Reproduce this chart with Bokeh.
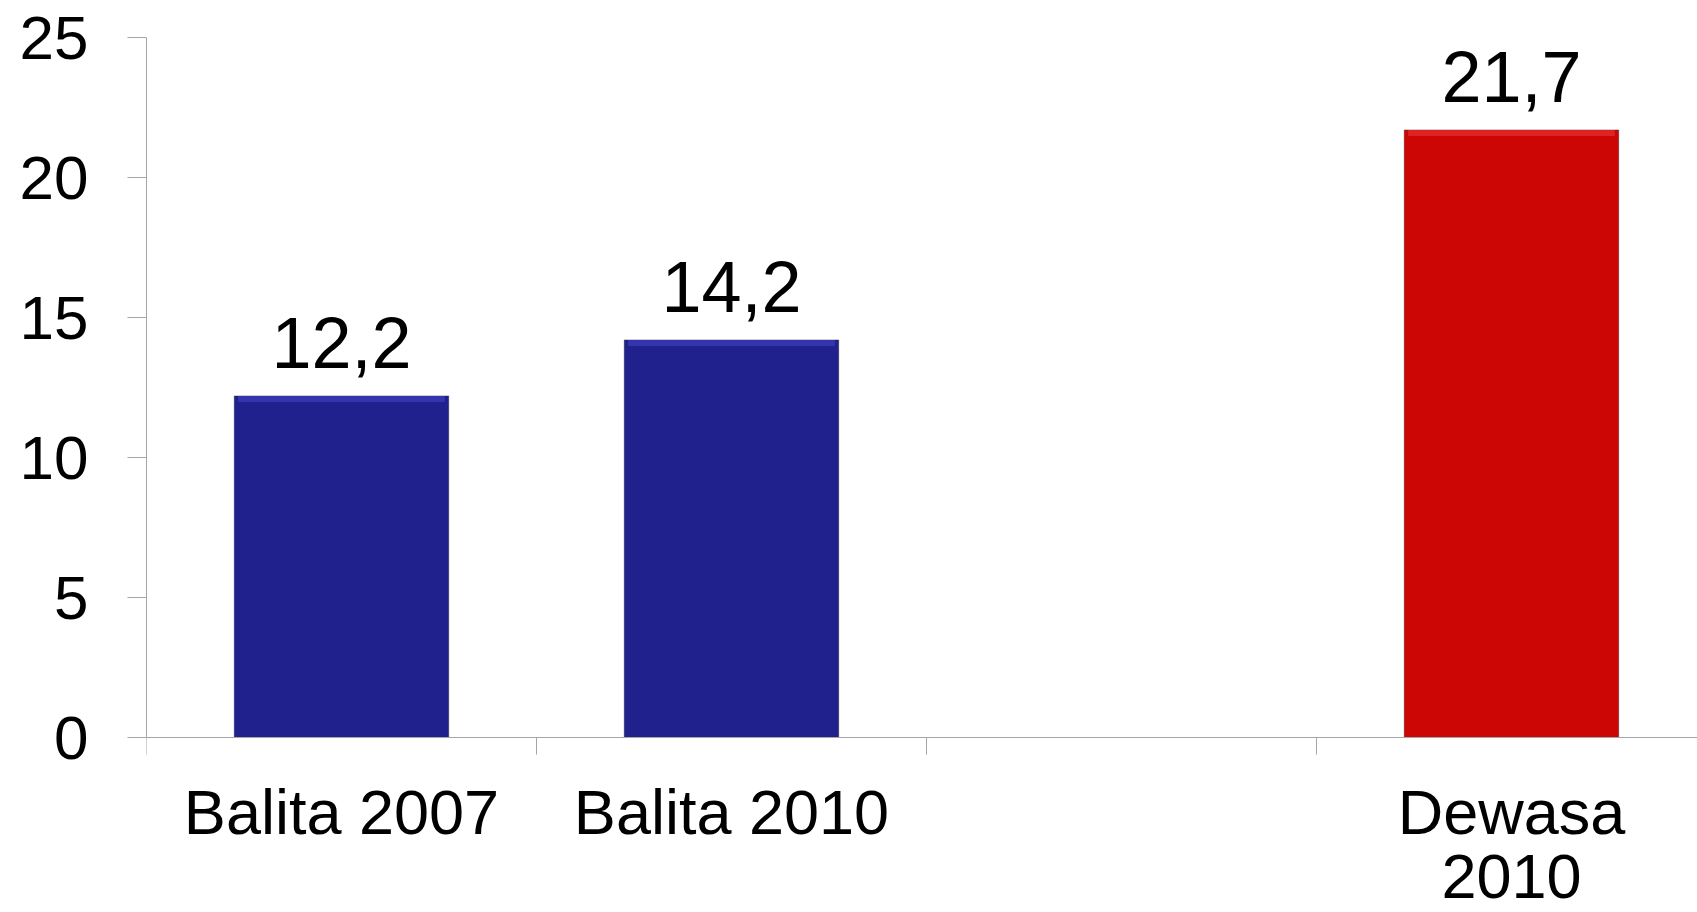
import math
from bokeh.plotting import figure
from bokeh.models import Range1d, FixedTicker, ColumnDataSource
from bokeh.core.properties import value
from bokeh.embed import file_html
from bokeh.resources import INLINE

# ---- data ----
categories = ["Balita 2007", "Balita 2010", "", "Dewasa\n2010"]
values = [12.2, 14.2, float("nan"), 21.7]
y_ticks = [0, 5, 10, 15, 20, 25]

# ---- style ----
BLUE = "#21218E"
RED = "#CC0505"
BLUE_HI = "#3A3AB6"
RED_HI = "#E42A2A"
bar_colors = [BLUE, BLUE, BLUE, RED]
hi_colors = [BLUE_HI, BLUE_HI, BLUE_HI, RED_HI]
BEVEL = 0.22          # depth of the top highlight, in value units
FONT = "Liberation Sans"
GREY = "#A6A6A6"

xs = [i + 0.5 for i in range(len(categories))]
labels = ["" if math.isnan(v) else f"{v:.1f}".replace(".", ",") for v in values]

src = ColumnDataSource(dict(x=xs, top=values, hi_bottom=[v - BEVEL for v in values],
                            color=bar_colors, hi=hi_colors, lab=labels))

# frame runs to the bottom of the canvas; the x axis is pinned at y = 0
p = figure(width=1697, height=912, output_backend="svg", toolbar_location=None,
           x_range=Range1d(0, 3.977), y_range=Range1d(-6.25, 25),
           min_border_left=146, min_border_right=0, min_border_top=37, min_border_bottom=0)
p.outline_line_color = None
p.background_fill_color = "white"
p.border_fill_color = "white"
p.xgrid.grid_line_color = None
p.ygrid.grid_line_color = None

p.vbar(x="x", top="top", bottom=0, width=0.55, fill_color="color", line_color="#1a1a1a",
       line_alpha=0.35, source=src)
p.vbar(x="x", top="top", bottom="hi_bottom", width=0.53, fill_color="hi", line_color=None,
       fill_alpha=0.8, source=src)

p.text(x="x", y="top", text="lab", source=src, text_align="center", text_baseline="alphabetic",
       y_offset=-53, text_font=value(FONT), text_font_size="72px", text_color="black")

# y axis
ya = p.yaxis[0]
ya.ticker = FixedTicker(ticks=y_ticks)
ya.bounds = (0, 25)
ya.axis_line_color = GREY
ya.major_tick_line_color = GREY
ya.major_tick_out = 19
ya.major_tick_in = 0
ya.minor_tick_line_color = None
ya.major_label_text_font = FONT
ya.major_label_text_font_size = "62px"
ya.major_label_text_color = "black"
ya.major_label_standoff = 39

# x axis: ticks at category boundaries, labels at centres
xa = p.xaxis[0]
xa.fixed_location = 0
xa.ticker = FixedTicker(ticks=xs, minor_ticks=list(range(len(categories) + 1)))
xa.major_label_overrides = {x: c for x, c in zip(xs, categories)}
xa.axis_line_color = GREY
xa.major_tick_line_color = None
xa.major_tick_out = 17
xa.major_tick_in = 0
xa.minor_tick_line_color = GREY
xa.minor_tick_out = 17
xa.minor_tick_in = 0
xa.major_label_text_font = FONT
xa.major_label_text_font_size = "63px"
xa.major_label_text_line_height = 0.92
xa.major_label_text_color = "black"
xa.major_label_standoff = 22

open("out.html", "w").write(file_html(p, INLINE))
